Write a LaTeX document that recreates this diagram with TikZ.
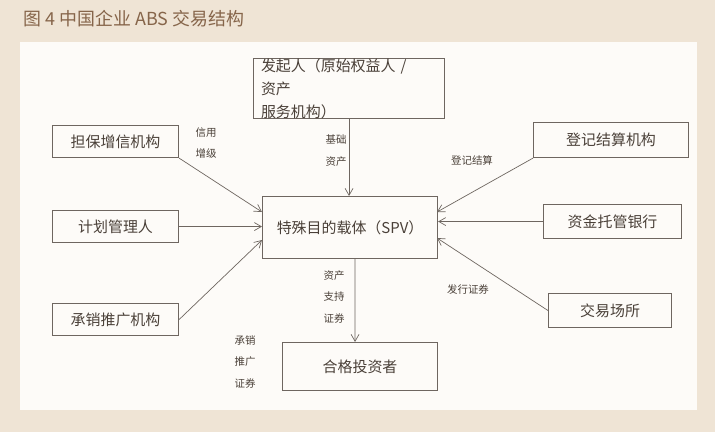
\documentclass[tikz,border=0pt]{standalone}
\usepackage{fontspec}
\newfontfamily\cjk{Noto Sans CJK SC}
\usetikzlibrary{arrows.meta}
\definecolor{bg}{HTML}{EFE4D5}
\definecolor{panel}{HTML}{FDFBF8}
\definecolor{ttl}{HTML}{86654A}
\definecolor{ln}{HTML}{6E6660}
\definecolor{tx}{HTML}{4A4038}
\tikzset{
 bx/.style={draw=ln,line width=1.1pt,text=tx,font=\cjk\fontsize{15}{23}\selectfont,inner sep=0pt,anchor=north west},
 lb/.style={text=tx,font=\cjk\fontsize{10.5}{22}\selectfont,align=left},
 ar/.style={draw=ln,line width=0.7pt,-{Straight Barb[length=7pt,width=8pt]}}
}
\begin{document}
\begin{tikzpicture}[x=1bp,y=-1bp]
\fill[bg] (0,0) rectangle (715,432);
\useasboundingbox (0,0) rectangle (715,432);
\fill[panel] (20,42) rectangle (697,410);
\node[anchor=west,text=ttl,font=\cjk\fontsize{18}{20}\selectfont] (title) at (20,19) {图 4\ 中国企业 ABS 交易结构};
\node[bx,minimum width=191bp,minimum height=59bp,align=left,text width=176bp,inner xsep=7.5bp] (fq) at (253,58) {发起人（原始权益人 / 资产\\服务机构）};
\node[bx,minimum width=126bp,minimum height=32bp] (db) at (52,125) {担保增信机构};
\node[bx,minimum width=126bp,minimum height=32bp] (jh) at (52,210) {计划管理人};
\node[bx,minimum width=126bp,minimum height=32bp] (cx) at (52,303) {承销推广机构};
\node[bx,minimum width=175bp,minimum height=62bp] (spv) at (262,196) {特殊目的载体（SPV）};
\node[bx,minimum width=155bp,minimum height=35bp] (dj) at (533,122) {登记结算机构};
\node[bx,minimum width=138bp,minimum height=34bp] (zj) at (543,204) {资金托管银行};
\node[bx,minimum width=123bp,minimum height=34bp] (jy) at (548,293) {交易场所};
\node[bx,minimum width=155bp,minimum height=48bp] (tz) at (282,342) {合格投资者};
\coordinate (s1) at (262,212);\coordinate (s3) at (262,240);
\coordinate (s5) at (437,212);\coordinate (s7) at (437,238);
\draw[ar] (db.south east) -- (s1);
\draw[ar] (jh.east) -- (jh.east -| spv.west);
\draw[ar] (cx.east) -- (s3);
\draw[ar] (fq.south) -- (fq.south |- spv.north);
\draw[ar] (dj.south west) -- (s5);
\draw[ar] (zj.west) -- (zj.west -| spv.east);
\draw[ar] (jy.west) -- (s7);
\draw[ar] ([xshift=5bp]spv.south) -- ([xshift=-5bp]tz.north);
\node[lb] (l1) at (206,143) {信用\\增级};
\node[lb] (l2) at (336,151) {基础\\资产};
\node[lb] (l3) at (472,160) {登记结算};
\node[lb] (l4) at (334,297) {资产\\支持\\证券};
\node[lb] (l5) at (468,290) {发行证券};
\node[lb] (l6) at (245,362) {承销\\推广\\证券};
\end{tikzpicture}
\end{document}
